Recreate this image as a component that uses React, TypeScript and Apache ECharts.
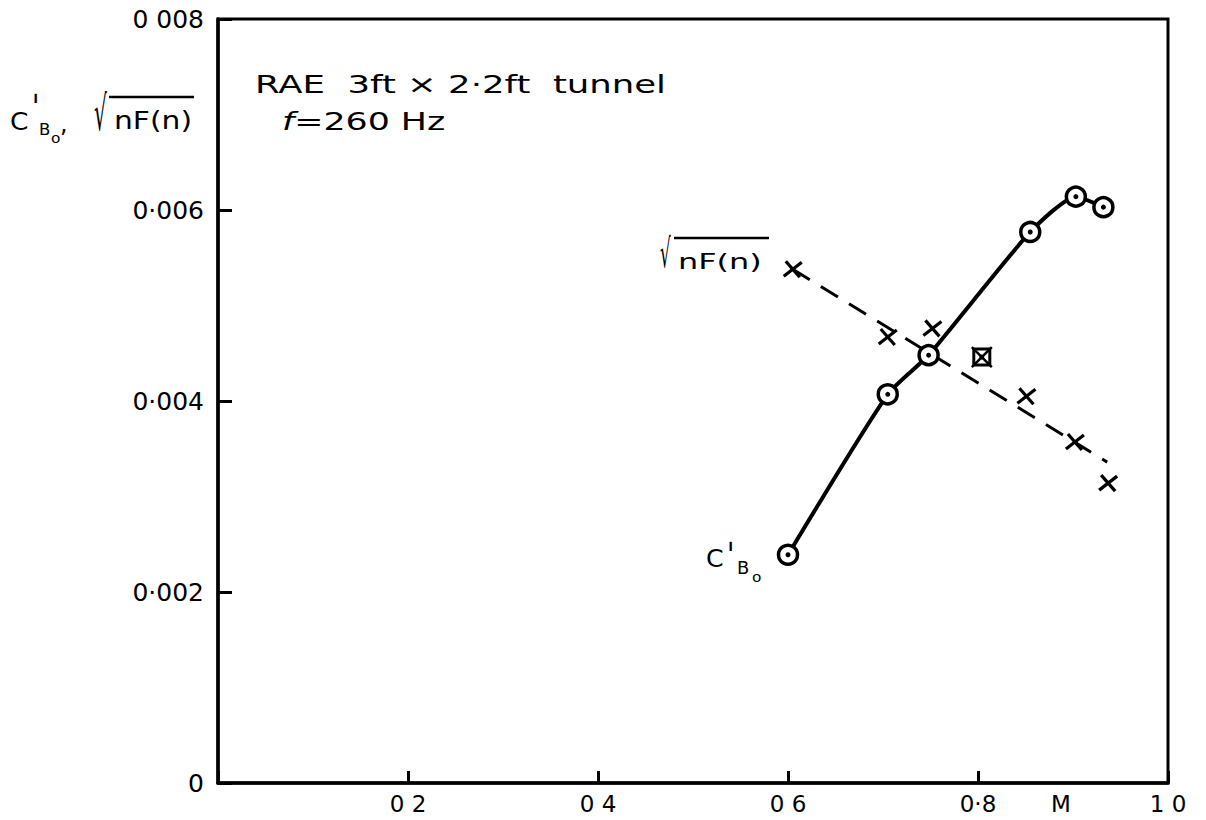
import React, { useEffect, useRef } from "react";
import * as echarts from "echarts";

// Mach number and C'B0 measured points (circles, joined by the solid curve)
const cboMach = [0.6, 0.705, 0.748, 0.855, 0.903, 0.932];
const cboValues = [0.00239, 0.00407, 0.00448, 0.00577, 0.00614, 0.00603];

// sqrt(nF(n)) crosses
const nfMach = [0.605, 0.705, 0.752, 0.851, 0.902, 0.937];
const nfValues = [0.00538, 0.00467, 0.00476, 0.00405, 0.00357, 0.00314];

// boxed cross point
const boxedMach = [0.804];
const boxedValues = [0.00446];

// dashed straight fit through sqrt(nF(n))
const fitMach = [0.605, 0.936];
const fitValues = [0.00538, 0.00336];

// tick labels
const xTickValues = [0.2, 0.4, 0.6, 0.8, 1.0];
const xTickLabels = ["0 2", "0 4", "0 6", "0·8", "1 0"];
const yTickValues = [0, 0.002, 0.004, 0.006, 0.008];
const yTickLabels = ["0", "0·002", "0·004", "0·006", "0 008"];

const FONT = '"DejaVu Sans", sans-serif';

function pick(vals: number[], labels: string[], v: number) {
  for (let i = 0; i < vals.length; i++) {
    if (Math.abs(vals[i] - v) < 1e-9) return labels[i];
  }
  return "";
}

export default function App() {
  const ref = useRef<HTMLDivElement>(null);
  useEffect(() => {
    document.body.style.margin = "0";
    document.body.style.overflow = "hidden";
    const chart = echarts.init(ref.current!, null, { renderer: "svg" });
    const txt = (x: number, y: number, text: string, size: number, sx = 1, extra: any = {}) => ({
      type: "text",
      x,
      y,
      scaleX: sx,
      style: {
        text,
        font: `${size}px ${FONT}`,
        fill: "#000",
        textVerticalAlign: "middle",
        ...extra,
      },
    });
    const ln = (x1: number, y1: number, x2: number, y2: number, w = 2.5) => ({
      type: "line",
      shape: { x1, y1, x2, y2 },
      style: { stroke: "#000", lineWidth: w },
    });
    const option: any = {
      animation: false,
      backgroundColor: "#fff",
      grid: {
        left: 218,
        top: 19,
        width: 950,
        height: 764,
        show: true,
        borderColor: "#000",
        borderWidth: 3,
      },
      xAxis: {
        type: "value",
        min: 0,
        max: 1,
        interval: 0.2,
        axisLine: { show: true, lineStyle: { color: "#000", width: 3.5 } },
        axisTick: { show: true, inside: true, length: 12, lineStyle: { color: "#000", width: 3 } },
        splitLine: { show: false },
        axisLabel: {
          margin: 9,
          color: "#000",
          fontFamily: FONT,
          fontSize: 23,
          lineHeight: 24,
          formatter: (v: number) => pick(xTickValues, xTickLabels, v),
        },
      },
      yAxis: {
        type: "value",
        min: 0,
        max: 0.008,
        interval: 0.002,
        axisLine: { show: true, lineStyle: { color: "#000", width: 3.5 } },
        axisTick: { show: true, inside: true, length: 14, lineStyle: { color: "#000", width: 3 } },
        splitLine: { show: false },
        axisLabel: {
          margin: 14,
          color: "#000",
          fontFamily: FONT,
          fontSize: 25,
          formatter: (v: number) => pick(yTickValues, yTickLabels, v),
        },
      },
      series: [
        {
          name: "fit",
          type: "line",
          data: fitMach.map((m, i) => [m, fitValues[i]]),
          symbol: "none",
          lineStyle: { color: "#000", width: 3, type: [20, 13] },
          z: 1,
        },
        {
          name: "C'B0",
          type: "line",
          data: cboMach.map((m, i) => [m, cboValues[i]]),
          smooth: 0.2,
          symbol: "circle",
          symbolSize: 19,
          showAllSymbol: true,
          itemStyle: { color: "#fff", borderColor: "#000", borderWidth: 3.5 },
          lineStyle: { color: "#000", width: 4 },
          z: 3,
        },
        {
          name: "dots",
          type: "scatter",
          data: cboMach.map((m, i) => [m, cboValues[i]]),
          symbol: "circle",
          symbolSize: 5,
          itemStyle: { color: "#000", opacity: 1 },
          z: 4,
        },
        {
          name: "sqrt nF(n)",
          type: "custom",
          coordinateSystem: "cartesian2d",
          data: nfMach.map((m, i) => [m, nfValues[i]]),
          encode: { x: 0, y: 1 },
          z: 5,
          renderItem: (params: any, api: any) => {
            const p = api.coord([api.value(0), api.value(1)]);
            const sx = 9, sy = 7;
            const st = { stroke: "#000", lineWidth: 3.2 };
            return {
              type: "group",
              children: [
                { type: "line", shape: { x1: p[0] - sx, y1: p[1] + sy, x2: p[0] + sx, y2: p[1] - sy }, style: st },
                { type: "line", shape: { x1: p[0] - sx + 2, y1: p[1] - sy - 1, x2: p[0] + sx - 2, y2: p[1] + sy + 1 }, style: st },
              ],
            };
          },
        },
        {
          name: "boxed",
          type: "custom",
          coordinateSystem: "cartesian2d",
          data: boxedMach.map((m, i) => [m, boxedValues[i]]),
          encode: { x: 0, y: 1 },
          z: 5,
          renderItem: (params: any, api: any) => {
            const p = api.coord([api.value(0), api.value(1)]);
            const h = 8;
            const st = { stroke: "#000", lineWidth: 2.5 };
            return {
              type: "group",
              children: [
                { type: "rect", shape: { x: p[0] - h, y: p[1] - h, width: 2 * h, height: 2 * h }, style: { fill: "none", stroke: "#000", lineWidth: 3 } },
                { type: "line", shape: { x1: p[0] - h - 2, y1: p[1] - h - 2, x2: p[0] + h + 2, y2: p[1] + h + 2 }, style: st },
                { type: "line", shape: { x1: p[0] - h - 2, y1: p[1] + h + 2, x2: p[0] + h + 2, y2: p[1] - h - 2 }, style: st },
                { type: "circle", shape: { cx: p[0], cy: p[1], r: 2.5 }, style: { fill: "#000" } },
              ],
            };
          },
        },
      ],
      graphic: [
        // annotation inside plot
        txt(255, 84, "RAE  3ft × 2·2ft  tunnel", 25, 1.42),
        {
          type: "text",
          x: 282,
          y: 122,
          scaleX: 1.45,
          style: {
            text: "{i|f}=260 Hz",
            font: `24px ${FONT}`,
            fill: "#000",
            textVerticalAlign: "middle",
            rich: { i: { fontStyle: "italic", fontFamily: FONT, fontSize: 24 } },
          },
        },
        // y axis name: C'B0, sqrt(nF(n))
        txt(10, 122, "C", 24, 1.1),
        txt(31, 108, "ˈ", 34),
        txt(39, 130, "B", 15, 1.1),
        txt(51, 138, "o", 14, 1.1),
        txt(60, 124, ",", 24),
        txt(94, 114, "√", 48, 0.42),
        txt(114, 121, "nF(n)", 24, 1.24),
        ln(109, 97, 194, 97),
        // series labels
        txt(660, 253, "√", 40, 0.42),
        txt(678, 261, "nF(n)", 22, 1.45),
        ln(674, 238, 769, 238),
        txt(706, 559, "C", 24, 1.05),
        txt(726, 556, "ˈ", 34),
        txt(737, 568, "B", 17, 1.05),
        txt(752, 577, "o", 14, 1.1),
        // axis name
        txt(1051, 804, "M", 23),
      ],
    };
    chart.setOption(option);
    return () => chart.dispose();
  }, []);
  return <div ref={ref} style={{ width: 1206, height: 820 }} />;
}
